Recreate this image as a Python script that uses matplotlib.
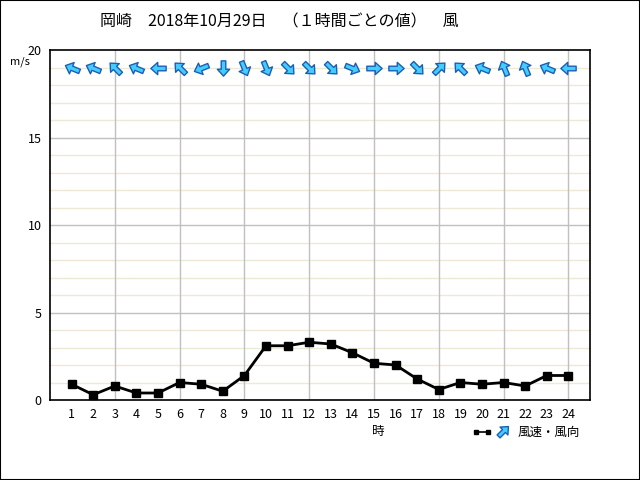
import numpy as np
import matplotlib
matplotlib.use("Agg")
from matplotlib import pyplot as plt
from matplotlib.path import Path
from matplotlib.markers import MarkerStyle
from matplotlib.transforms import Affine2D
from matplotlib.patches import Rectangle

plt.rcParams["font.family"] = ["Noto Sans CJK JP", "DejaVu Sans"]

TITLE = "岡崎　2018年10月29日　（１時間ごとの値）　風"
hours = list(range(1, 25))
speed = [0.9, 0.3, 0.8, 0.4, 0.4, 1.0, 0.9, 0.5, 1.4, 3.1, 3.1, 3.3,
         3.2, 2.7, 2.1, 2.0, 1.2, 0.6, 1.0, 0.9, 1.0, 0.8, 1.4, 1.4]
# wind blows from (16-point compass)
wind_from = ["ESE", "ESE", "SE", "ESE", "E", "SE", "ENE", "N", "NNW", "NNW",
             "NW", "NW", "NW", "WNW", "W", "W", "NW", "SW", "SE", "ESE",
             "SSE", "SSE", "ESE", "E"]
COMPASS = ["N", "NNE", "NE", "ENE", "E", "ESE", "SE", "SSE",
           "S", "SSW", "SW", "WSW", "W", "WNW", "NW", "NNW"]

ARROW_Y = 19
FILL = "#44ccff"
EDGE = "#1a5fb4"

# block arrow pointing along +x
arrow_verts = [(-0.5, -0.15), (0.05, -0.15), (0.05, -0.4), (0.5, 0.0),
               (0.05, 0.4), (0.05, 0.15), (-0.5, 0.15), (-0.5, -0.15)]
arrow_path = Path(arrow_verts, [Path.MOVETO] + [Path.LINETO] * 6 + [Path.CLOSEPOLY])


def arrow_marker(math_angle):
    return MarkerStyle(arrow_path, transform=Affine2D().rotate_deg(math_angle))


def downwind_angle(name):
    deg = COMPASS.index(name) * 22.5
    return 90 - (deg + 180)


fig = plt.figure(figsize=(6.4, 4.8), dpi=100)
ax = fig.add_axes([50 / 640, 80 / 480, 540 / 640, 350 / 480])

ax.set_xlim(0, 25)
ax.set_ylim(0, 20)

# grid
for y in range(1, 20):
    ax.axhline(y, color="#eee8d6" if y % 5 else "#c0c0c0", lw=1, zorder=0)
for x in range(3, 25, 3):
    ax.axvline(x, color="#c0c0c0", lw=1, zorder=0)

ax.plot(hours, speed, color="black", lw=2, marker="s", ms=5.5, zorder=3)

for h, d in zip(hours, wind_from):
    ax.plot(h, ARROW_Y, marker=arrow_marker(downwind_angle(d)), ms=11,
            mfc=FILL, mec=EDGE, mew=1, ls="none", zorder=4)

ax.set_xticks(hours)
ax.set_yticks([0, 5, 10, 15, 20])
ax.tick_params(length=0, labelsize=9, pad=6)
for s in ax.spines.values():
    s.set_linewidth(1.2)
    s.set_color("black")

fig.text(100 / 640, 1 - 22 / 480, TITLE, fontsize=11.5, va="center", ha="left")
fig.text(20 / 640, 1 - 62 / 480, "m/s", fontsize=8, va="center", ha="center")
fig.text(378 / 640, 1 - 432 / 480, "時", fontsize=9, va="center", ha="center")

# legend
fig.lines.append(plt.Line2D([476 / 640, 488 / 640], [1 - 432 / 480] * 2,
                            transform=fig.transFigure, color="black", lw=1.2,
                            marker="s", ms=2.5))
fig.lines.append(plt.Line2D([503 / 640], [1 - 431 / 480], transform=fig.transFigure,
                            marker=arrow_marker(45), ms=10, mfc=FILL, mec=EDGE,
                            mew=1, ls="none"))
fig.text(518 / 640, 1 - 432 / 480, "風速・風向", fontsize=9, va="center", ha="left")

fig.patches.append(Rectangle((0, 0), 1, 1, transform=fig.transFigure, fill=False,
                             edgecolor="black", lw=1.5))

fig.savefig("out.png", dpi=100)
